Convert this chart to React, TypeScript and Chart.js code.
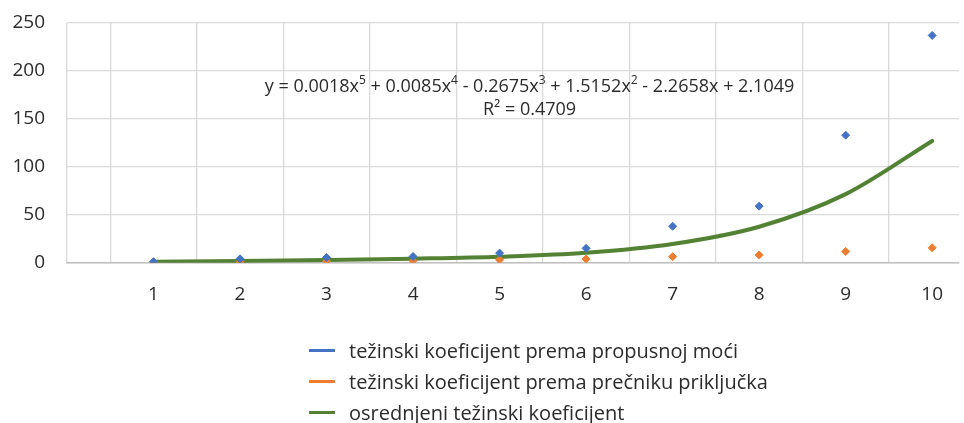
import React, { useEffect, useRef } from 'react';
import { Chart, registerables } from 'chart.js';

Chart.register(...registerables);

const xValues = [1, 2, 3, 4, 5, 6, 7, 8, 9, 10];
const propusnaMoc = [1, 4, 5.5, 6.5, 10, 15, 38, 59, 133, 237];
const precnikPrikljucka = [0.8, 1, 1.5, 2, 3, 3.8, 6.3, 8, 11.7, 15.5];
const osrednjeni = [1.1, 1.7, 2.8, 4.2, 6.2, 10.3, 19.5, 37.5, 71.5, 127];

const seriesNames = [
  'težinski koeficijent prema propusnoj moći',
  'težinski koeficijent prema prečniku priključka',
  'osrednjeni težinski koeficijent',
];
const seriesColors = ['#4472C4', '#ED7D31', '#548235'];

const yMin = 0;
const yMax = 250;
const yStep = 50;
const xMin = 0;
const xMax = 10.31;

const equationParts: [string, boolean][] = [
  ['y = 0.0018x', false],
  ['5', true],
  [' + 0.0085x', false],
  ['4', true],
  [' - 0.2675x', false],
  ['3', true],
  [' + 1.5152x', false],
  ['2', true],
  [' - 2.2658x + 2.1049', false],
];
const rSquaredText = 'R² = 0.4709';

const FONT = '"Open Sans", "Noto Sans", sans-serif';
const TEXT_COLOR = '#2b2b2b';
const GRID_COLOR = '#d9d9d9';

const W = 964;
const H = 423;

const equationPlugin = {
  id: 'equationLabel',
  afterDatasetsDraw(chart: any) {
    const ctx = chart.ctx;
    ctx.save();
    ctx.fillStyle = TEXT_COLOR;
    ctx.textBaseline = 'middle';
    ctx.textAlign = 'left';
    const mainFont = `18px ${FONT}`;
    const supFont = `12px ${FONT}`;
    let total = 0;
    for (const [t, sup] of equationParts) {
      ctx.font = sup ? supFont : mainFont;
      total += ctx.measureText(t).width;
    }
    const cx = 529.5;
    let x = cx - total / 2;
    const y1 = 86.5;
    for (const [t, sup] of equationParts) {
      ctx.font = sup ? supFont : mainFont;
      ctx.fillText(t, x, sup ? y1 - 6 : y1);
      x += ctx.measureText(t).width;
    }
    ctx.font = mainFont;
    ctx.textAlign = 'center';
    ctx.fillText(rSquaredText, cx, 110);
    ctx.restore();
  },
};

export default function App() {
  const canvasRef = useRef<HTMLCanvasElement | null>(null);

  useEffect(() => {
    if (!canvasRef.current) return;
    const xTickValues = [0, ...xValues.flatMap((v) => [v - 0.5, v])];
    const chart = new Chart(canvasRef.current, {
      type: 'scatter',
      data: {
        datasets: [
          {
            label: seriesNames[0],
            data: xValues.map((x, i) => ({ x, y: propusnaMoc[i] })),
            backgroundColor: seriesColors[0],
            borderColor: seriesColors[0],
            pointStyle: 'rectRot',
            pointRadius: 4,
            borderWidth: 1,
            showLine: false,
          },
          {
            label: seriesNames[1],
            data: xValues.map((x, i) => ({ x, y: precnikPrikljucka[i] })),
            backgroundColor: seriesColors[1],
            borderColor: seriesColors[1],
            pointStyle: 'rectRot',
            pointRadius: 4,
            borderWidth: 1,
            showLine: false,
          },
          {
            label: seriesNames[2],
            data: xValues.map((x, i) => ({ x, y: osrednjeni[i] })),
            borderColor: seriesColors[2],
            backgroundColor: seriesColors[2],
            pointRadius: 0,
            borderWidth: 4,
            showLine: true,
            cubicInterpolationMode: 'monotone',
            borderCapStyle: 'round',
          } as any,
        ],
      },
      options: {
        animation: false,
        responsive: false,
        devicePixelRatio: 1,
        layout: { padding: { top: 23, left: 0, right: 0, bottom: 0 } },
        plugins: {
          legend: { display: false },
          tooltip: { enabled: false },
        },
        scales: {
          x: {
            type: 'linear',
            min: xMin,
            max: xMax,
            afterBuildTicks: (scale: any) => {
              scale.ticks = xTickValues.map((v) => ({ value: v }));
            },
            afterFit: (scale: any) => {
              scale.height = H - 262.7;
              scale.paddingLeft = 0;
              scale.paddingRight = 0;
            },
            ticks: {
              autoSkip: false,
              maxRotation: 0,
              padding: 20,
              color: TEXT_COLOR,
              font: { family: FONT, size: 19 },
              callback: (v: any) => (Number.isInteger(v) && v > 0 ? String(v) : ''),
            },
            grid: {
              drawTicks: false,
              lineWidth: 1.3,
              color: (c: any) => {
                const v = c.tick ? c.tick.value : 1;
                return v % 1 !== 0 || v === 0 ? GRID_COLOR : 'rgba(0,0,0,0)';
              },
            },
            border: { display: true, color: '#bfbfbf', width: 1.5 },
          },
          y: {
            type: 'linear',
            min: yMin,
            max: yMax,
            afterFit: (scale: any) => {
              scale.width = 67;
              scale.paddingTop = 0;
              scale.paddingBottom = 0;
            },
            ticks: {
              stepSize: yStep,
              padding: 22,
              color: TEXT_COLOR,
              font: { family: FONT, size: 19 },
            },
            grid: { drawTicks: false, lineWidth: 1.3, color: GRID_COLOR },
            border: { display: false },
          },
        },
      } as any,
      plugins: [equationPlugin],
    });
    return () => chart.destroy();
  }, []);

  const legendTops = [350.7, 381.5, 412.5];

  return (
    <div style={{ position: 'fixed', left: 0, top: 0, width: W, height: H, background: '#fff', overflow: 'hidden' }}>
      <canvas ref={canvasRef} width={W} height={H} style={{ position: 'absolute', left: 0, top: 0, width: W, height: H }} />
      {seriesNames.map((name, i) => (
        <div
          key={name}
          style={{
            position: 'absolute',
            left: 309,
            top: legendTops[i] - 13,
            height: 26,
            display: 'flex',
            alignItems: 'center',
            fontFamily: FONT,
            fontSize: 20,
            color: TEXT_COLOR,
            whiteSpace: 'nowrap',
          }}
        >
          <span style={{ display: 'inline-block', width: 26, height: 3.5, background: seriesColors[i], marginRight: 14 }} />
          <span style={{ lineHeight: '26px' }}>{name}</span>
        </div>
      ))}
    </div>
  );
}
